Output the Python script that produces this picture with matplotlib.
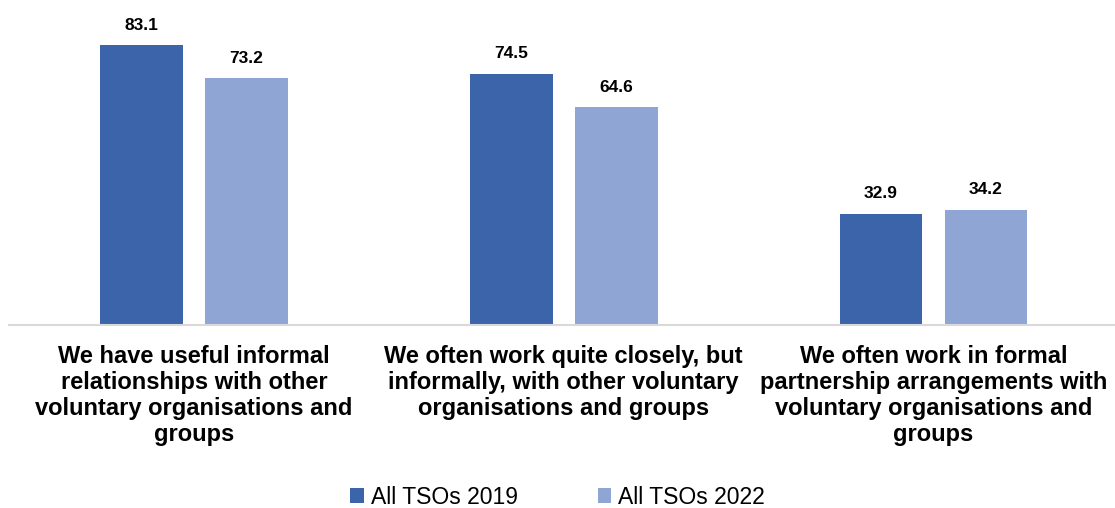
import matplotlib.pyplot as plt
import numpy as np

# Survey statements and the share of TSOs agreeing (%)
statements = [
    "We have useful informal\nrelationships with other\nvoluntary organisations and\ngroups",
    "We often work quite closely, but\ninformally, with other voluntary\norganisations and groups",
    "We often work in formal\npartnership arrangements with\nvoluntary organisations and\ngroups",
]
tsos_2019 = [83.1, 74.5, 32.9]
tsos_2022 = [73.2, 64.6, 34.2]
series_names = ["All TSOs 2019", "All TSOs 2022"]

dark_blue = "#3c64ab"
light_blue = "#8fa5d4"

plt.rcParams['font.family'] = ['Liberation Sans', 'DejaVu Sans']

fig = plt.figure(figsize=(11.15, 5.08), dpi=100)
ax = fig.add_axes([0.008, 0.361, 0.995, 0.596])

x = np.arange(len(statements))
width = 0.224
offset = 0.142

bars1 = ax.bar(x - offset, tsos_2019, width, color=dark_blue, label=series_names[0])
bars2 = ax.bar(x + offset, tsos_2022, width, color=light_blue, label=series_names[1])

# Value labels above each bar
for bars in (bars1, bars2):
    for b in bars:
        ax.annotate(f"{b.get_height():.1f}",
                    (b.get_x() + b.get_width() / 2, b.get_height()),
                    xytext=(0, 9), textcoords="offset points",
                    ha="center", va="bottom", fontsize=12.5, fontweight="bold")

ax.set_ylim(0, 90)
ax.set_xlim(-0.5, 2.5)
ax.set_yticks([])
ax.set_xticks(x)
ax.set_xticklabels(statements, fontsize=17, fontweight="bold", linespacing=1.15)
ax.tick_params(axis="x", length=0, pad=15)

for side in ("top", "right", "left"):
    ax.spines[side].set_visible(False)
ax.spines["bottom"].set_color("#d9d9d9")
ax.spines["bottom"].set_linewidth(1.5)

fig.legend(loc="center", bbox_to_anchor=(0.5, 1 - 497 / 508), ncol=2,
           frameon=False, fontsize=16.5, handlelength=0.6, handleheight=0.6,
           handletextpad=0.3, columnspacing=3.5)

fig.savefig("out.png", dpi=100)
